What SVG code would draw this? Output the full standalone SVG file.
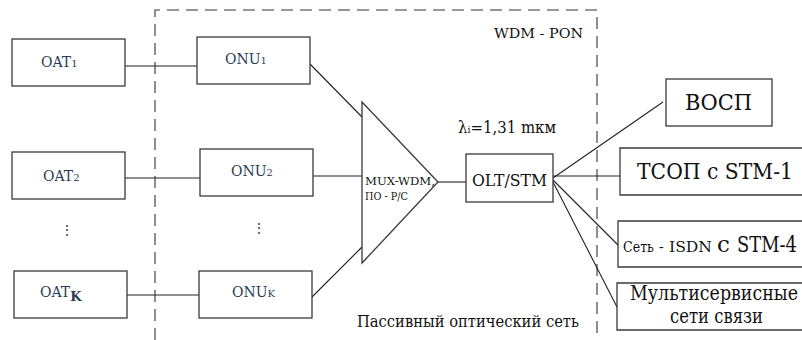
<svg xmlns="http://www.w3.org/2000/svg" width="802" height="340" viewBox="0 0 802 340">
<style>
.box{fill:#fff;stroke:#3a3a3a;stroke-width:1.3}
.ln{fill:none;stroke:#222;stroke-width:1.1}
text{font-family:'DejaVu Serif',serif;fill:#111}
.lbl{fill:#2b3a55;font-size:14px}
.dash{fill:none;stroke:#333;stroke-width:1.1;stroke-dasharray:12 7}
</style>
<rect width="802" height="340" fill="#fff"/>
<path id="wdm-pon-area" class="dash" d="M155,340 V10 H597 V340"/>
<g id="connectors">
<line class="ln" x1="125" y1="66" x2="197" y2="66"/>
<line class="ln" x1="125" y1="178" x2="200" y2="178"/>
<line class="ln" x1="127" y1="295" x2="199" y2="295"/>
<line class="ln" x1="310" y1="64" x2="362" y2="117"/>
<line class="ln" x1="313" y1="176" x2="362" y2="176"/>
<line class="ln" x1="312" y1="297" x2="362" y2="247"/>
<line class="ln" x1="438" y1="182" x2="466" y2="182"/>
<line class="ln" x1="553" y1="178" x2="663" y2="102"/>
<line class="ln" x1="553" y1="176" x2="620" y2="176"/>
<line class="ln" x1="553" y1="180" x2="618" y2="245"/>
<line class="ln" x1="553" y1="182" x2="617" y2="307"/>
</g>
<g id="oat1"><rect class="box" x="12" y="39" width="113" height="47"/><text class="lbl" x="41" y="67">OAT<tspan font-size="10">1</tspan></text></g>
<g id="oat2"><rect class="box" x="12" y="152" width="113" height="47"/><text class="lbl" x="43" y="181">OAT<tspan font-size="10">2</tspan></text></g>
<text class="lbl" x="60" y="235">⋮</text>
<g id="oatk"><rect class="box" x="14" y="271" width="113" height="47"/><text class="lbl" x="40" y="297">OAT<tspan font-size="13" font-weight="bold" dy="4">K</tspan></text></g>
<g id="onu1"><rect class="box" x="197" y="37" width="113" height="47"/><text class="lbl" x="225" y="64">ONU<tspan font-size="10">1</tspan></text></g>
<g id="onu2"><rect class="box" x="200" y="149" width="113" height="47"/><text class="lbl" x="231" y="176">ONU<tspan font-size="10">2</tspan></text></g>
<text class="lbl" x="252" y="233">⋮</text>
<g id="onuk"><rect class="box" x="199" y="271" width="113" height="47"/><text class="lbl" x="232" y="297">ONU<tspan font-size="10">K</tspan></text></g>
<g id="mux"><polygon class="box" points="362,102 438,182 362,263"/><text x="365" y="185" font-size="11" textLength="70" lengthAdjust="spacingAndGlyphs">MUX-WDM,</text><text x="365" y="200" font-size="11" textLength="43" lengthAdjust="spacingAndGlyphs">ПО - Р/С</text></g>
<g id="olt"><rect class="box" x="466" y="154" width="87" height="48"/><text x="472" y="186" font-size="16" textLength="75" lengthAdjust="spacingAndGlyphs">OLT/STM</text></g>
<text x="458" y="133" font-size="16" textLength="98" lengthAdjust="spacingAndGlyphs">λ<tspan font-size="10">i</tspan>=1,31 mкм</text>
<text x="494" y="38" font-size="13" textLength="89" lengthAdjust="spacingAndGlyphs">WDM - PON</text>
<text x="357" y="327" font-size="17" textLength="222" lengthAdjust="spacingAndGlyphs">Пассивный оптический сеть</text>
<g id="vosp"><rect class="box" x="666" y="79" width="106" height="47"/><text x="685" y="110" font-size="23" textLength="67" lengthAdjust="spacingAndGlyphs">ВОСП</text></g>
<g id="tsop"><path class="box" d="M802,148 H620 V195 H802"/><text x="637" y="179" font-size="23" textLength="156" lengthAdjust="spacingAndGlyphs">ТСОП  с STM-1</text></g>
<g id="isdn"><path class="box" d="M802,221 H618 V267 H802"/><text y="252" font-size="14"><tspan x="623" textLength="31" lengthAdjust="spacingAndGlyphs">Сеть</tspan><tspan x="659">-</tspan><tspan x="669" textLength="43" lengthAdjust="spacingAndGlyphs">ISDN</tspan><tspan x="717" font-size="23">с</tspan><tspan x="737" font-size="23" textLength="60" lengthAdjust="spacingAndGlyphs">STM-4</tspan></text></g>
<g id="multi"><path class="box" d="M802,283 H617 V330 H802"/><text x="630" y="300" font-size="20" textLength="168" lengthAdjust="spacingAndGlyphs">Мультисервисные</text><text x="670" y="323" font-size="20" textLength="93" lengthAdjust="spacingAndGlyphs">сети связи</text></g>
</svg>
